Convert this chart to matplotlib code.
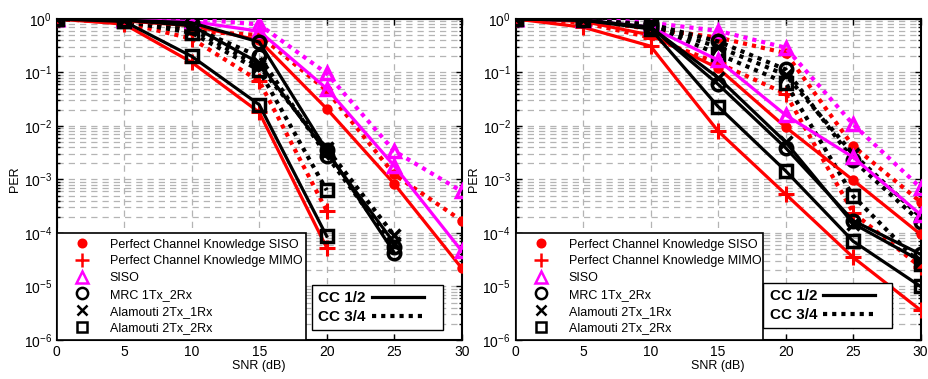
import matplotlib
matplotlib.use('Agg')
import matplotlib.pyplot as plt
from matplotlib.lines import Line2D
from matplotlib.ticker import NullFormatter, FixedLocator, LogFormatterSciNotation
import numpy as np

plt.rcParams['font.family'] = ['Liberation Sans', 'DejaVu Sans']
plt.rcParams['mathtext.fontset'] = 'custom'
plt.rcParams['mathtext.rm'] = 'Liberation Sans'
plt.rcParams['mathtext.it'] = 'Liberation Sans:italic'
plt.rcParams['mathtext.bf'] = 'Liberation Sans:bold'

snr = [0, 5, 10, 15, 20, 25, 30]
x_ticks = [0, 5, 10, 15, 20, 25, 30]
y_ticks = [1e-6, 1e-5, 1e-4, 1e-3, 1e-2, 1e-1, 1e0]

legend_labels = ["Perfect Channel Knowledge SISO", "Perfect Channel Knowledge MIMO",
                 "SISO", "MRC 1Tx_2Rx", "Alamouti 2Tx_1Rx", "Alamouti 2Tx_2Rx"]
rate_labels = ["CC 1/2", "CC 3/4"]

# ---- Left panel (solid = CC 1/2, dotted = CC 3/4) ----
L_pck_siso_12 = [1.0, 0.92, 0.75, 0.40, 0.021, 8.3e-4, 2.2e-5]
L_pck_siso_34 = [1.0, 0.95, 0.59, 0.50, 0.046, 1.24e-3, 1.7e-4]
L_pck_mimo_12 = [1.0, 0.80, 0.155, 0.018, 5.3e-5]
L_pck_mimo_34 = [1.0, 0.85, 0.43, 0.069, 2.6e-4]
L_siso_12 = [1.0, 0.95, 0.90, 0.59, 0.050, 1.8e-3, 4.6e-5]
L_siso_34 = [1.0, 1.0, 1.0, 0.79, 0.096, 3.4e-3, 6.0e-4]
L_mrc_12 = [1.0, 0.95, 0.85, 0.37, 3.5e-3, 4.3e-5]
L_mrc_34 = [1.0, 0.95, 0.70, 0.20, 2.8e-3, 5.5e-5]
L_al21_12 = [1.0, 0.95, 0.75, 0.15, 3.2e-3, 6.5e-5]
L_al21_34 = [1.0, 0.95, 0.65, 0.13, 3.8e-3, 9.0e-5]
L_al22_12 = [1.0, 0.90, 0.20, 0.025, 8.7e-5]
L_al22_34 = [1.0, 0.90, 0.55, 0.11, 6.3e-4]

# ---- Right panel ----
R_pck_siso_12 = [1.0, 0.90, 0.50, 0.12, 9.5e-3, 9.7e-4, 9.4e-5]
R_pck_siso_34 = [1.0, 0.95, 0.65, 0.45, 0.23, 4.2e-3, 3.8e-4]
R_pck_mimo_12 = [1.0, 0.70, 0.31, 8.0e-3, 5.3e-4, 3.5e-5, 3.6e-6]
R_pck_mimo_34 = [1.0, 0.85, 0.45, 0.15, 0.040, 2.4e-4, 2.3e-5]
R_siso_12 = [1.0, 0.95, 0.70, 0.17, 0.016, 2.6e-3, 2.2e-4]
R_siso_34 = [1.0, 1.0, 0.85, 0.60, 0.29, 0.0107, 7.0e-4]
R_mrc_12 = [1.0, 0.95, 0.70, 0.060, 3.9e-3, 1.7e-4, 4.0e-5]
R_mrc_34 = [1.0, 0.95, 0.80, 0.38, 0.114, 2.3e-3, 1.6e-4]
R_al21_12 = [1.0, 0.95, 0.70, 0.080, 5.0e-3, 1.5e-4, 3.0e-5]
R_al21_34 = [1.0, 0.95, 0.75, 0.30, 0.090, 3.0e-3, 2.0e-4]
R_al22_12 = [1.0, 0.95, 0.65, 0.023, 1.45e-3, 7.0e-5, 1.0e-5]
R_al22_34 = [1.0, 0.95, 0.75, 0.22, 0.064, 4.9e-4, 2.6e-5]

RED = '#ff0000'
MAG = '#ff00ff'
BLK = '#000000'

styles = [
    dict(color=RED, marker='o', ms=6, mfc=RED, mew=1.5),
    dict(color=RED, marker='+', ms=11, mfc=RED, mew=2.2),
    dict(color=MAG, marker='^', ms=9, mfc='none', mew=2.5),
    dict(color=BLK, marker='o', ms=9, mfc='none', mew=2.5),
    dict(color=BLK, marker='x', ms=8, mfc='none', mew=2.5),
    dict(color=BLK, marker='s', ms=8, mfc='none', mew=2.5),
]

left_series = [(L_pck_siso_12, L_pck_siso_34), (L_pck_mimo_12, L_pck_mimo_34),
               (L_siso_12, L_siso_34), (L_mrc_12, L_mrc_34),
               (L_al21_12, L_al21_34), (L_al22_12, L_al22_34)]
right_series = [(R_pck_siso_12, R_pck_siso_34), (R_pck_mimo_12, R_pck_mimo_34),
                (R_siso_12, R_siso_34), (R_mrc_12, R_mrc_34),
                (R_al21_12, R_al21_34), (R_al22_12, R_al22_34)]

fig = plt.figure(figsize=(9.29, 3.79), dpi=100)
ax1 = fig.add_axes([0.061, 0.103, 0.436, 0.847])
ax2 = fig.add_axes([0.555, 0.103, 0.436, 0.847])

grid_kw = dict(color='#b4b4b4', linestyle=(0, (5, 4)), linewidth=0.9)
minor_y = [m * 10.0 ** e for e in range(-6, 0) for m in range(2, 10)]


def draw(ax, series, leg1_box, leg2_box):
    ax.set_yscale('log')
    ax.set_xlim(0, 30)
    ax.set_ylim(1e-6, 1)
    for st, (s12, s34) in zip(styles, series):
        ax.plot(snr[:len(s34)], s34, linestyle=(0, (1.0, 1.2)), lw=3.0,
                dash_capstyle='butt', zorder=3, **st)
        ax.plot(snr[:len(s12)], s12, linestyle='-', lw=2.3, zorder=4, **st)
    ax.xaxis.set_major_locator(FixedLocator(x_ticks))
    ax.yaxis.set_major_locator(FixedLocator(y_ticks))
    ax.yaxis.set_major_formatter(LogFormatterSciNotation())
    ax.yaxis.set_minor_locator(FixedLocator(minor_y))
    ax.yaxis.set_minor_formatter(NullFormatter())
    ax.grid(True, which='major', axis='both', **grid_kw)
    ax.grid(True, which='minor', axis='y', **grid_kw)
    ax.set_axisbelow(True)
    ax.tick_params(which='both', direction='in', top=True, right=True,
                   labelsize=10, width=1.0)
    ax.tick_params(which='major', length=4)
    ax.tick_params(which='minor', length=2)
    for sp in ax.spines.values():
        sp.set_linewidth(1.5)
    ax.set_xlabel('SNR (dB)', fontsize=9, labelpad=1)
    ax.set_ylabel('PER', fontsize=9, labelpad=2)

    handles = [Line2D([], [], linestyle='none', color=st['color'], marker=st['marker'],
                      ms=st['ms'] * 0.9, mfc=st['mfc'], mew=1.8)
               for st in styles]
    leg1 = ax.legend(handles, legend_labels, loc='lower left', bbox_to_anchor=leg1_box,
                     mode='expand', borderaxespad=0, fontsize=9, handlelength=3.2,
                     handletextpad=0.6, labelspacing=0.38, borderpad=0.45,
                     fancybox=False, edgecolor='black', framealpha=1)
    leg1.get_frame().set_linewidth(1.2)
    ax.add_artist(leg1)
    h2 = [Line2D([], [], color='black', lw=2.3, linestyle='-'),
          Line2D([], [], color='black', lw=3.0, linestyle=(0, (1.0, 1.2)))]
    leg2 = ax.legend(h2, rate_labels, loc='lower left', bbox_to_anchor=leg2_box,
                     mode='expand', borderaxespad=0, markerfirst=False,
                     prop=dict(weight='bold', size=11), handlelength=3.4,
                     handletextpad=0.4, labelspacing=0.3, borderpad=0.4,
                     fancybox=False, edgecolor='black', framealpha=1)
    leg2.get_frame().set_linewidth(1.0)


draw(ax1, left_series, (0.0, 0.0, 0.615, 0.34), (0.63, 0.031, 0.323, 0.14))
draw(ax2, right_series, (0.0, 0.0, 0.612, 0.34), (0.612, 0.037, 0.318, 0.14))

fig.savefig('out.png', dpi=100)
